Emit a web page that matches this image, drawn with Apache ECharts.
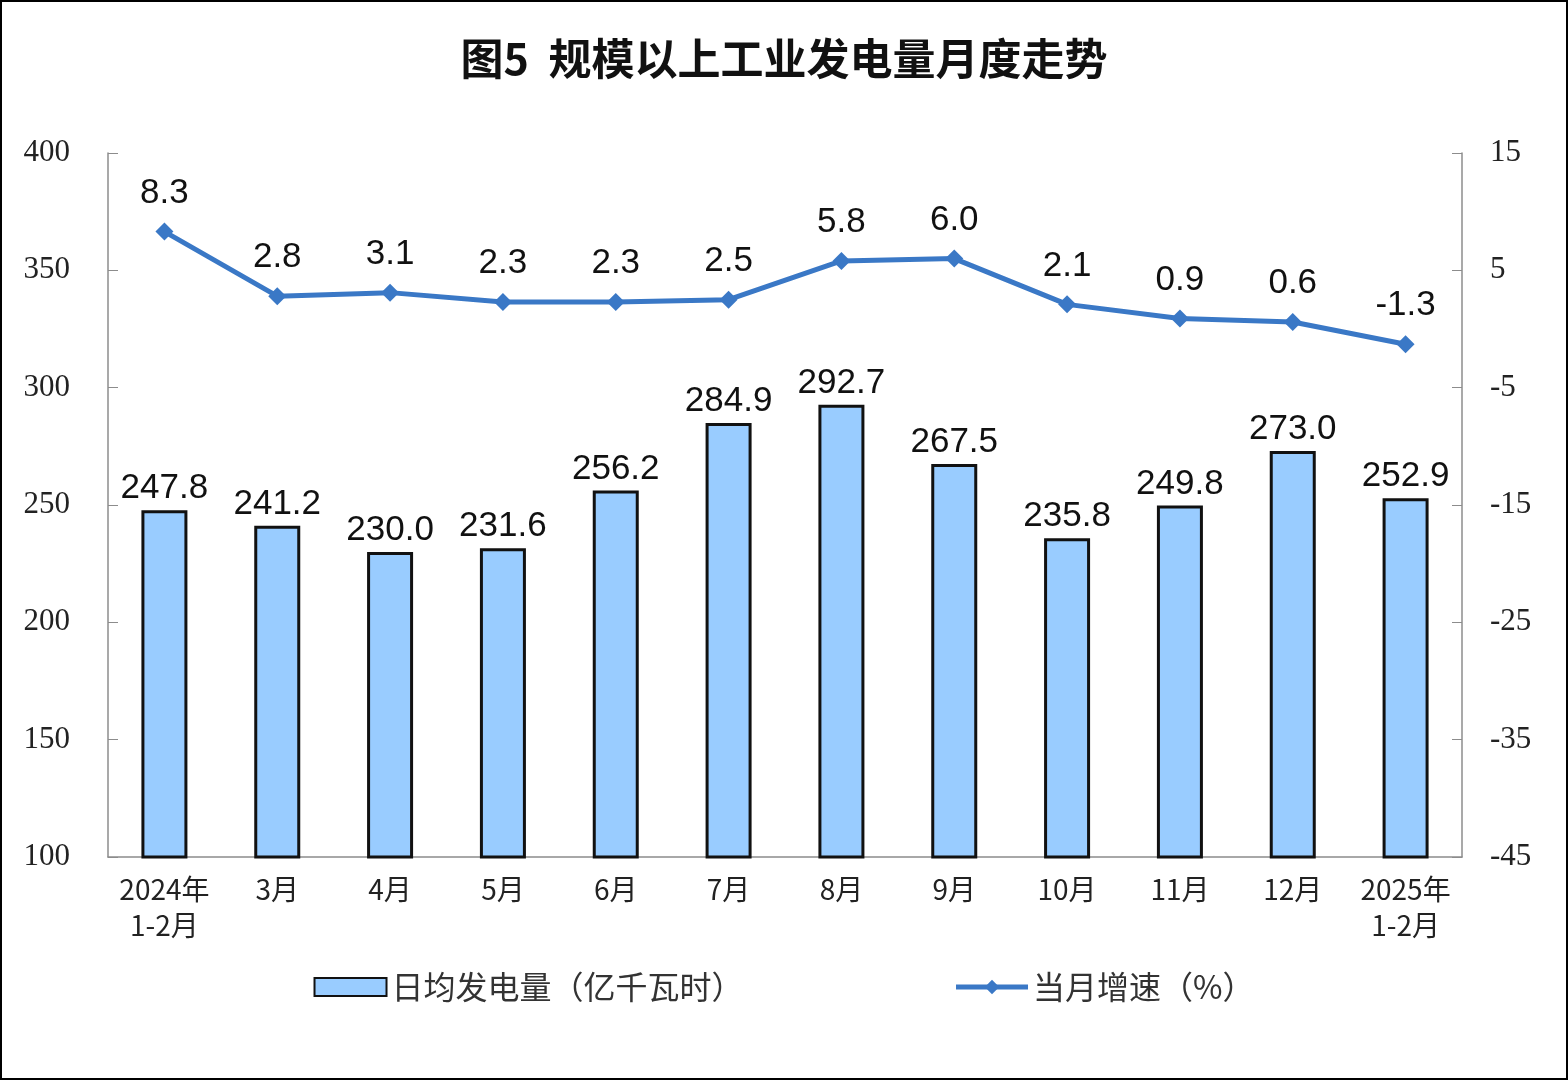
<!DOCTYPE html>
<html><head><meta charset="utf-8">
<script src="https://cdn.jsdelivr.net/npm/echarts@6/dist/echarts.min.js"></script>
<style>html,body{margin:0;padding:0;background:#fff}#c{width:1568px;height:1080px}</style>
</head><body><div id="c"></div>
<script>
const categories = ['2024年\n1-2月','3月','4月','5月','6月','7月','8月','9月','10月','11月','12月','2025年\n1-2月'];
const dailyOutput = [247.8,241.2,230.0,231.6,256.2,284.9,292.7,267.5,235.8,249.8,273.0,252.9];
const growthRate = [8.3,2.8,3.1,2.3,2.3,2.5,5.8,6.0,2.1,0.9,0.6,-1.3];
const leftTicks = {min:100,max:400,interval:50};
const rightTicks = {min:-45,max:15,interval:10};

const chart = echarts.init(document.getElementById('c'));
const axisColor = '#8c8c8c';
chart.setOption({
  backgroundColor:'#fff',
  animation:false,
  title:{text:'图5  规模以上工业发电量月度走势',left:'center',top:32,
    textStyle:{fontFamily:'Noto Sans CJK SC',fontSize:43,fontWeight:'bold',color:'#111'}},
  graphic:[{type:'rect',shape:{x:1,y:1,width:1566,height:1078},style:{fill:'none',stroke:'#000',lineWidth:2},silent:true}],
  grid:{left:108,right:106,top:153,bottom:223},
  legend:{bottom:72,left:'center',itemGap:210,itemWidth:72,itemHeight:18,
    textStyle:{fontFamily:'Noto Sans CJK SC',fontSize:32,color:'#333'},
    data:[{name:'日均发电量（亿千瓦时）',icon:'rect'},{name:'当月增速（%）',lineStyle:{width:5}}]},
  xAxis:{type:'category',data:categories,
    axisLine:{onZero:false,lineStyle:{color:axisColor,width:1.5}},
    axisTick:{inside:true,length:10,lineStyle:{color:axisColor}},
    axisLabel:{fontFamily:'Noto Sans CJK SC',fontSize:28,color:'#222',margin:14,lineHeight:36,interval:0}},
  yAxis:[{type:'value',min:leftTicks.min,max:leftTicks.max,interval:leftTicks.interval,
      axisLine:{show:true,lineStyle:{color:axisColor,width:1.5}},
      axisTick:{show:true,inside:true,length:10,lineStyle:{color:axisColor}},
      splitLine:{show:false},
      axisLabel:{fontFamily:'Liberation Serif',fontSize:31,color:'#222',margin:38}},
    {type:'value',min:rightTicks.min,max:rightTicks.max,interval:rightTicks.interval,position:'right',
      axisLine:{show:true,lineStyle:{color:axisColor,width:1.5}},
      axisTick:{show:true,inside:true,length:10,lineStyle:{color:axisColor}},
      splitLine:{show:false},
      axisLabel:{fontFamily:'Liberation Serif',fontSize:31,color:'#222',margin:28}}],
  series:[{name:'日均发电量（亿千瓦时）',type:'bar',data:dailyOutput,barWidth:46,
      itemStyle:{color:'#99CCFF',borderColor:'#111',borderWidth:3},
      label:{show:true,position:'top',distance:4,formatter:p=>p.value.toFixed(1),
        fontFamily:'Liberation Sans',fontSize:35,color:'#111'}},
    {name:'当月增速（%）',type:'line',yAxisIndex:1,data:growthRate,
      symbol:'diamond',symbolSize:18,
      lineStyle:{color:'#3A78C6',width:5},itemStyle:{color:'#3A78C6'},
      label:{show:true,position:'top',distance:12,formatter:p=>p.value.toFixed(1),
        fontFamily:'Liberation Sans',fontSize:35,color:'#111'}}]
});
</script></body></html>
